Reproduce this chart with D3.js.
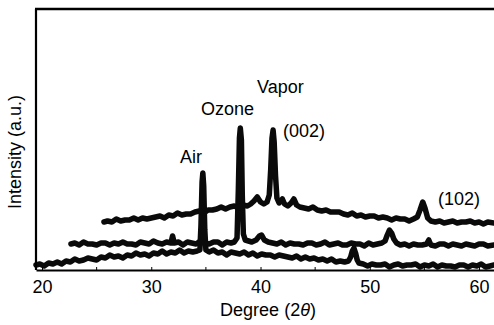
<!DOCTYPE html>
<html>
<head>
<meta charset="utf-8">
<script src="https://cdn.jsdelivr.net/npm/d3@7"></script>
<style>
  body { margin: 0; background: #fff; }
  svg { display: block; font-family: "Liberation Sans", Arial, sans-serif; }
</style>
</head>
<body>
<div id="svg_container"></div>
<script>
// XRD patterns, drawn offset (waterfall) as in the figure: [2theta, intensity a.u.]
const airSeries = [
  [19.45,5],[19.8,6],[20.2,4],[20.6,7],[21.0,6],[21.4,8],[21.8,6],[22.2,9],[22.6,8],[23.0,11],
  [23.4,9],[23.8,10],[24.2,12],[24.6,11],[25.0,10],[25.4,13],[25.8,12],[26.2,15],[26.6,13],[27.0,14],
  [27.4,12],[27.8,15],[28.2,14],[28.6,17],[29.0,15],[29.4,16],[29.8,14],[30.2,17],[30.6,16],[31.0,19],
  [31.4,16],[31.8,18],[32.2,17],[32.6,20],[33.0,17],[33.4,19],[33.8,18],[34.2,19],[34.45,20],[34.55,45],
  [34.65,88],[34.72,97],[34.8,84],[34.9,40],[35.0,20],[35.3,18],[35.7,20],[36.1,17],[36.5,18],[36.9,15],
  [37.3,18],[37.7,17],[38.1,16],[38.5,18],[38.9,15],[39.3,17],[39.7,14],[40.1,16],[40.5,15],[40.9,15],
  [41.3,13],[41.7,15],[42.1,14],[42.5,13],[42.9,12],[43.3,14],[43.7,11],[44.1,13],[44.5,11],[44.9,12],
  [45.3,10],[45.7,11],[46.1,9],[46.5,11],[46.9,8],[47.3,9],[47.7,8],[48.05,9],[48.25,13],[48.4,19],
  [48.55,22],[48.7,17],[48.85,10],[49.0,7],[49.4,6],[49.8,4],[50.2,6],[50.6,5],[51.0,5],[51.4,6],
  [51.8,3],[52.2,5],[52.6,6],[53.0,4],[53.4,5],[53.8,5],[54.2,6],[54.6,3],[55.0,5],[55.4,4],
  [55.8,6],[56.2,3],[56.6,5],[57.0,4],[57.4,4],[57.8,3],[58.2,5],[58.6,5],[59.0,3],[59.4,5],
  [59.8,4],[60.2,6],[60.6,3],[61.0,4],[61.37,5]
];
const ozoneSeries = [
  [22.65,26],[23.0,27],[23.4,25],[23.8,28],[24.2,26],[24.6,26],[25.0,25],[25.4,27],[25.8,27],[26.2,25],
  [26.6,27],[27.0,26],[27.4,28],[27.8,26],[28.2,26],[28.6,25],[29.0,28],[29.4,27],[29.8,26],[30.2,29],
  [30.6,27],[31.0,26],[31.4,28],[31.8,27],[31.95,34],[32.1,27],[32.5,28],[32.9,25],[33.3,28],[33.7,27],
  [34.1,26],[34.5,29],[34.9,27],[35.3,26],[35.7,28],[36.1,28],[36.5,25],[36.9,28],[37.3,27],[37.6,28],
  [37.85,32],[37.97,80],[38.07,132],[38.15,142],[38.25,130],[38.33,75],[38.43,36],[38.6,30],[38.9,29],[39.2,28],
  [39.6,30],[39.9,34],[40.1,35],[40.35,30],[40.7,28],[41.1,27],[41.5,26],[41.9,28],[42.3,25],[42.7,27],
  [43.1,26],[43.5,26],[43.9,25],[44.3,27],[44.7,27],[45.1,25],[45.5,26],[45.9,28],[46.3,25],[46.7,26],
  [47.1,27],[47.5,25],[47.9,25],[48.3,27],[48.7,26],[49.1,26],[49.5,24],[49.9,27],[50.3,25],[50.7,26],
  [51.1,27],[51.4,29],[51.6,35],[51.8,40],[52.0,37],[52.2,31],[52.45,27],[52.8,25],[53.2,26],[53.6,24],
  [54.0,26],[54.4,25],[54.8,25],[55.2,26],[55.4,30],[55.6,25],[56.0,24],[56.4,26],[56.8,26],[57.2,24],
  [57.6,26],[58.0,25],[58.4,24],[58.8,26],[59.2,25],[59.6,24],[60.0,26],[60.4,26],[60.8,24],[61.37,25]
];
const vaporSeries = [
  [25.67,48],[26.0,49],[26.4,48],[26.8,51],[27.2,49],[27.6,50],[28.0,50],[28.4,52],[28.8,50],[29.2,52],
  [29.6,51],[30.0,52],[30.4,53],[30.8,54],[31.2,52],[31.6,55],[32.0,54],[32.4,57],[32.8,55],[33.2,56],
  [33.6,56],[34.0,58],[34.4,59],[34.8,57],[35.2,60],[35.6,60],[36.0,61],[36.4,63],[36.8,61],[37.2,63],
  [37.6,64],[38.0,62],[38.4,65],[38.8,64],[39.1,66],[39.4,69],[39.7,73],[40.0,68],[40.3,66],[40.6,68],
  [40.8,75],[40.93,100],[41.05,132],[41.15,140],[41.25,128],[41.37,95],[41.5,72],[41.7,67],[42.0,71],[42.2,66],
  [42.5,64],[42.8,67],[43.05,71],[43.3,65],[43.6,63],[44.0,62],[44.4,61],[44.8,63],[45.2,60],[45.6,59],
  [46.0,60],[46.4,58],[46.8,58],[47.2,58],[47.6,56],[48.0,55],[48.4,57],[48.8,54],[49.2,55],[49.6,53],
  [50.0,54],[50.4,54],[50.8,52],[51.2,53],[51.6,52],[52.0,50],[52.4,52],[52.8,51],[53.2,51],[53.6,49],
  [54.0,51],[54.35,53],[54.6,60],[54.85,68],[55.05,62],[55.3,52],[55.6,49],[56.0,48],[56.4,49],[56.8,47],
  [57.2,48],[57.6,49],[58.0,47],[58.4,48],[58.8,48],[59.2,49],[59.6,47],[60.0,48],[60.4,46],[60.8,48],
  [61.37,47]
];
const xTicks = [20, 30, 40, 50, 60];
const minorTicks = [25, 35, 45, 55];
// annotation text and anchor in data units
const labelNames = ["Air", "Ozone", "Vapor", "(002)", "(102)"];
const labelX = [32.63, 34.55, 39.68, 42.06, 56.25];
const labelY = [107, 155, 177, 133, 65];

const W = 494, H = 325;
const margin = { top: 9, right: 0, bottom: 55, left: 36 },
    width = W - margin.left - margin.right,
    height = H - margin.top - margin.bottom;

const svg = d3.select("#svg_container")
    .append("svg")
    .attr("width", W)
    .attr("height", H)
    .append("g")
    .attr("transform", `translate(${margin.left}, ${margin.top})`);

const x = d3.scaleLinear().domain([19.45, 61.37]).range([0, width]);
const y = d3.scaleLinear().domain([0, 261]).range([height, 0]);

// traces
const line = d3.line()
    .x(d => x(d[0]))
    .y(d => y(d[1]));

[airSeries, ozoneSeries, vaporSeries].forEach(function (s) {
    svg.append("path")
        .datum(s)
        .attr("fill", "none")
        .attr("stroke", "#0a0a0a")
        .attr("stroke-width", 5.5)
        .attr("stroke-linejoin", "round")
        .attr("stroke-linecap", "round")
        .attr("d", line);
});

// bottom axis
const xAxis = svg.append("g")
    .attr("transform", "translate(0," + height + ")")
    .call(d3.axisBottom(x).tickValues(xTicks).tickSizeInner(-3).tickSizeOuter(0).tickPadding(10));
xAxis.select(".domain").attr("stroke", "#000").attr("stroke-width", 2.2);
xAxis.selectAll(".tick line").attr("stroke", "#000").attr("stroke-width", 1);
xAxis.selectAll("text").attr("font-size", 18).attr("fill", "#000")
    .attr("font-family", "'Liberation Sans', Arial, sans-serif");

svg.append("g")
    .selectAll("line")
    .data(minorTicks)
    .enter()
    .append("line")
    .attr("x1", d => x(d)).attr("x2", d => x(d))
    .attr("y1", height).attr("y2", height - 3)
    .attr("stroke", "#000").attr("stroke-width", 1);

// left and top frame lines
svg.append("line")
    .attr("x1", 0).attr("x2", 0).attr("y1", 0).attr("y2", height)
    .attr("stroke", "#000").attr("stroke-width", 2.2);
svg.append("line")
    .attr("x1", -1).attr("x2", width).attr("y1", 0).attr("y2", 0)
    .attr("stroke", "#000").attr("stroke-width", 2.4);

// annotations
svg.append("g")
    .selectAll("text")
    .data(labelNames)
    .enter()
    .append("text")
    .attr("x", (d, i) => x(labelX[i]))
    .attr("y", (d, i) => y(labelY[i]))
    .attr("font-size", 18)
    .attr("fill", "#000")
    .text(d => d);

// axis titles
const xt = svg.append("text")
    .attr("x", 268 - margin.left)
    .attr("y", 316 - margin.top)
    .attr("text-anchor", "middle")
    .attr("font-size", 18)
    .attr("fill", "#000");
xt.append("tspan").text("Degree (2");
xt.append("tspan").attr("font-style", "italic").text("θ");
xt.append("tspan").text(")");

svg.append("text")
    .attr("transform", `translate(${21 - margin.left}, ${152 - margin.top}) rotate(-90)`)
    .attr("text-anchor", "middle")
    .attr("font-size", 18)
    .attr("fill", "#000")
    .text("Intensity (a.u.)");
</script>
</body>
</html>
